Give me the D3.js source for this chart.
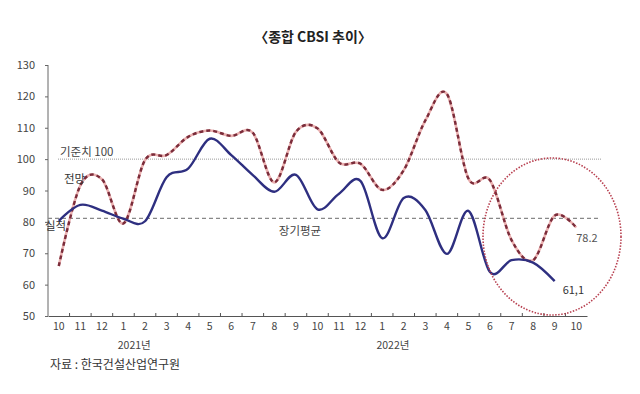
<!DOCTYPE html>
<html>
<head>
<meta charset="utf-8">
<script src="https://cdn.jsdelivr.net/npm/d3@7"></script>
<style>
  body { margin: 0; background: #fff; }
  svg text { font-family: "Noto Sans CJK KR", "Noto Sans", sans-serif; }
</style>
</head>
<body>
<script>
// chart data
var months = ["10", "11", "12", "1", "2", "3", "4", "5", "6", "7", "8", "9",
              "10", "11", "12", "1", "2", "3", "4", "5", "6", "7", "8", "9", "10"];
var actual = [80.3, 85.4, 83.6, 81.0, 80.2, 94.2, 97.0, 106.5, 101.3, 94.9, 89.6, 95.0,
              84.0, 89.0, 93.0, 74.8, 87.6, 83.8, 69.8, 83.5, 64.0, 67.8, 67.0, 61.1];
var forecast = [65.9, 91.6, 93.6, 79.5, 99.7, 101.3, 107.1, 109.1, 107.4, 108.4, 92.6, 108.7,
                109.8, 98.9, 98.5, 90.2, 96.5, 112.3, 120.8, 93.8, 93.3, 74.2, 67.8, 82.0, 78.2];
var yTicks = [50, 60, 70, 80, 90, 100, 110, 120, 130];
var years = [{label: "2021년", at: 3.5}, {label: "2022년", at: 15.5}];
var baseLine = 100;
var longAvg = 81.1;

var w = 640, h = 394;
var svg = d3.select("body").append("svg")
    .attr("width", w)
    .attr("height", h);

var x = d3.scaleBand()
    .domain(d3.range(months.length))
    .range([48, 587]);
var y = d3.scaleLinear()
    .domain([50, 130])
    .range([316, 65]);
var cx = function (i) { return x(i) + x.bandwidth() / 2; };

// title
svg.append("text")
    .attr("x", 313).attr("y", 42)
    .attr("text-anchor", "middle")
    .attr("font-size", "14px").attr("font-weight", "bold")
    .attr("fill", "#222")
    .text("〈종합 CBSI 추이〉");

// y axis
var yAxis = svg.append("g")
    .attr("transform", "translate(48,0)")
    .call(d3.axisLeft(y).tickValues(yTicks).tickSize(3).tickPadding(10));
yAxis.select(".domain").attr("stroke", "#666").attr("d", "M0," + y(130) + "V" + y(50));
yAxis.selectAll(".tick line").attr("stroke", "#666");
yAxis.selectAll("text").attr("font-size", "11px").attr("fill", "#444")
    .attr("font-family", "Liberation Sans, Arial, sans-serif");

// x axis
var xAxis = svg.append("g")
    .attr("transform", "translate(0," + y(50) + ")")
    .call(d3.axisBottom(x).tickFormat(function (i) { return months[i]; }).tickSize(0).tickPadding(7));
xAxis.select(".domain").attr("stroke", "#555");
xAxis.selectAll("text").attr("font-size", "10.5px").attr("fill", "#444")
    .attr("font-family", "Liberation Sans, Arial, sans-serif");
// small tick marks between months
svg.append("g").selectAll("line")
    .data(d3.range(1, months.length))
    .enter().append("line")
    .attr("x1", function (i) { return x(i); })
    .attr("x2", function (i) { return x(i); })
    .attr("y1", y(50)).attr("y2", y(50) - 3)
    .attr("stroke", "#555");

// year labels
svg.append("g").selectAll("text")
    .data(years)
    .enter().append("text")
    .attr("x", function (d) { return x(0) + x.bandwidth() * (d.at + 0.5); })
    .attr("y", 349)
    .attr("text-anchor", "middle")
    .attr("font-size", "10.5px").attr("fill", "#444")
    .text(function (d) { return d.label; });

// reference lines
svg.append("line")
    .attr("x1", 58).attr("x2", 601)
    .attr("y1", y(baseLine)).attr("y2", y(baseLine))
    .attr("stroke", "#999").attr("stroke-width", 1)
    .attr("stroke-dasharray", "1,1");
svg.append("text")
    .attr("x", 60).attr("y", y(baseLine) - 3)
    .attr("font-size", "11.5px").attr("fill", "#444")
    .text("기준치 100");

svg.append("line")
    .attr("x1", 48).attr("x2", 600)
    .attr("y1", y(longAvg)).attr("y2", y(longAvg))
    .attr("stroke", "#888").attr("stroke-width", 1.3)
    .attr("stroke-dasharray", "4,3");
svg.append("text")
    .attr("x", 300).attr("y", y(longAvg) + 17)
    .attr("text-anchor", "middle")
    .attr("font-size", "11.5px").attr("fill", "#444")
    .text("장기평균");

// series lines
var line = d3.line()
    .x(function (d, i) { return cx(i); })
    .y(function (d) { return y(d); })
    .curve(d3.curveCardinal.tension(0));

svg.append("path")
    .datum(forecast)
    .attr("d", line)
    .attr("fill", "none")
    .attr("stroke", "#eab0b0").attr("stroke-width", 2.6);
svg.append("path")
    .datum(forecast)
    .attr("d", line)
    .attr("fill", "none")
    .attr("stroke", "#7a2c3a").attr("stroke-width", 2.4)
    .attr("stroke-dasharray", "4,3");

svg.append("path")
    .datum(actual)
    .attr("d", line)
    .attr("fill", "none")
    .attr("stroke", "#2e2f80").attr("stroke-width", 2.4);

// series labels
svg.append("text")
    .attr("x", 64).attr("y", 183)
    .attr("font-size", "11.5px").attr("fill", "#333")
    .text("전망");
svg.append("text")
    .attr("x", 45).attr("y", 230)
    .attr("font-size", "11.5px").attr("fill", "#333")
    .text("실적");

// end values
var lastA = actual.length - 1, lastF = forecast.length - 1;
svg.append("text")
    .attr("x", cx(lastA) + 8).attr("y", y(actual[lastA]) + 13)
    .attr("font-size", "11px").attr("fill", "#333")
    .attr("font-family", "Liberation Sans, Arial, sans-serif")
    .text(actual[lastA].toFixed(1).replace(".", ","));
svg.append("text")
    .attr("x", cx(lastF) + 0).attr("y", y(forecast[lastF]) + 14)
    .attr("font-size", "11px").attr("fill", "#555")
    .attr("font-family", "Liberation Sans, Arial, sans-serif")
    .text(forecast[lastF].toFixed(1));

// highlight ellipse
svg.append("ellipse")
    .attr("cx", 552).attr("cy", 236.5)
    .attr("rx", 69).attr("ry", 78.5)
    .attr("fill", "none")
    .attr("stroke", "#b84050").attr("stroke-width", 1.6)
    .attr("stroke-dasharray", "1.5,1.5");

// source
svg.append("text")
    .attr("x", 50).attr("y", 369)
    .attr("font-size", "12px").attr("fill", "#333")
    .text("자료 : 한국건설산업연구원");
</script>
</body>
</html>
